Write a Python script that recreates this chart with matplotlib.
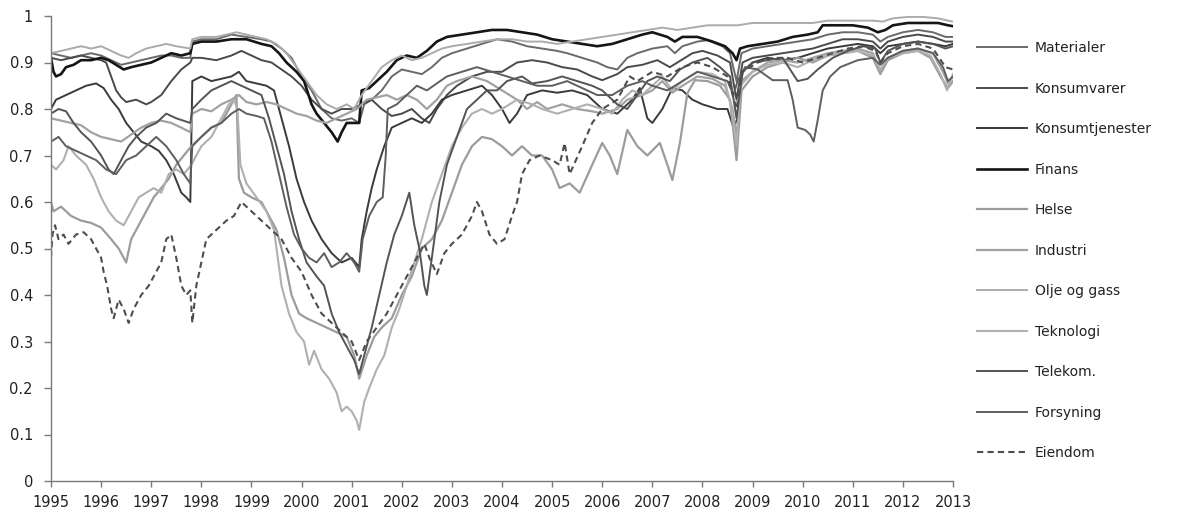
import matplotlib
matplotlib.use("Agg")
import matplotlib.pyplot as plt

plt.rcParams['font.family'] = ['DejaVu Sans']

# ---------------- data ----------------
materialer_t = [1995.0,1995.2,1995.4,1995.6,1995.8,1996.0,1996.2,1996.4,1996.6,1996.8,1997.0,1997.2,1997.4,1997.6,1997.78,1997.82,1998.0,1998.3,1998.6,1998.9,1999.2,1999.4,1999.6,1999.8,2000.0,2000.2,2000.4,2000.6,2000.8,2001.0,2001.15,2001.25,2001.4,2001.6,2001.8,2002.0,2002.2,2002.4,2002.6,2002.8,2003.0,2003.3,2003.6,2003.9,2004.2,2004.5,2004.8,2005.1,2005.3,2005.6,2005.9,2006.1,2006.3,2006.5,2006.7,2007.0,2007.3,2007.45,2007.6,2007.9,2008.1,2008.4,2008.55,2008.68,2008.78,2009.0,2009.3,2009.6,2009.9,2010.2,2010.5,2010.8,2011.1,2011.4,2011.55,2011.7,2012.0,2012.3,2012.6,2012.85,2013.0]
materialer_v = [0.92,0.915,0.91,0.915,0.92,0.915,0.905,0.895,0.9,0.905,0.91,0.915,0.915,0.91,0.91,0.945,0.95,0.95,0.96,0.955,0.95,0.945,0.93,0.91,0.87,0.84,0.80,0.78,0.775,0.78,0.77,0.81,0.82,0.84,0.87,0.885,0.88,0.875,0.89,0.91,0.92,0.93,0.94,0.95,0.945,0.935,0.93,0.925,0.92,0.91,0.90,0.89,0.885,0.91,0.92,0.93,0.935,0.92,0.935,0.945,0.948,0.935,0.92,0.86,0.92,0.93,0.935,0.94,0.945,0.95,0.96,0.965,0.965,0.96,0.945,0.955,0.965,0.97,0.965,0.955,0.955]

konsumvarer_t = [1995.0,1995.2,1995.4,1995.6,1995.8,1996.0,1996.1,1996.2,1996.3,1996.4,1996.5,1996.7,1996.9,1997.0,1997.2,1997.4,1997.6,1997.78,1997.82,1998.0,1998.3,1998.6,1998.8,1999.0,1999.2,1999.4,1999.6,1999.8,2000.0,2000.2,2000.4,2000.6,2000.8,2001.0,2001.2,2001.4,2001.6,2001.8,2002.0,2002.2,2002.4,2002.55,2002.7,2002.9,2003.1,2003.4,2003.7,2004.0,2004.3,2004.6,2004.9,2005.2,2005.5,2005.8,2006.0,2006.3,2006.5,2006.8,2007.1,2007.35,2007.5,2007.8,2008.0,2008.3,2008.55,2008.68,2008.8,2009.0,2009.3,2009.6,2009.9,2010.2,2010.5,2010.8,2011.1,2011.4,2011.55,2011.7,2012.0,2012.3,2012.6,2012.85,2013.0]
konsumvarer_v = [0.91,0.905,0.91,0.915,0.91,0.905,0.9,0.87,0.84,0.825,0.815,0.82,0.81,0.815,0.83,0.86,0.885,0.9,0.91,0.91,0.905,0.915,0.925,0.915,0.905,0.90,0.885,0.87,0.85,0.82,0.80,0.79,0.80,0.80,0.81,0.82,0.80,0.785,0.79,0.80,0.78,0.77,0.80,0.83,0.85,0.87,0.88,0.88,0.90,0.905,0.90,0.89,0.885,0.87,0.862,0.875,0.89,0.895,0.905,0.89,0.90,0.92,0.925,0.915,0.90,0.82,0.90,0.91,0.915,0.92,0.925,0.93,0.94,0.95,0.95,0.945,0.93,0.945,0.955,0.96,0.955,0.945,0.945]

konsumtj_t = [1995.0,1995.1,1995.3,1995.5,1995.7,1995.9,1996.05,1996.2,1996.35,1996.5,1996.65,1996.8,1997.0,1997.15,1997.3,1997.45,1997.6,1997.7,1997.78,1997.82,1998.0,1998.2,1998.4,1998.6,1998.75,1998.9,1999.1,1999.3,1999.45,1999.6,1999.75,1999.9,2000.05,2000.2,2000.4,2000.6,2000.8,2001.0,2001.15,2001.2,2001.3,2001.4,2001.5,2001.65,2001.8,2002.0,2002.2,2002.4,2002.6,2002.8,2003.0,2003.3,2003.6,2003.8,2004.0,2004.15,2004.3,2004.5,2004.8,2005.1,2005.4,2005.7,2006.0,2006.3,2006.6,2006.75,2006.9,2007.0,2007.2,2007.4,2007.6,2007.8,2008.0,2008.3,2008.5,2008.62,2008.7,2008.8,2009.0,2009.3,2009.6,2009.9,2010.2,2010.5,2010.8,2011.1,2011.4,2011.55,2011.7,2012.0,2012.3,2012.6,2012.85,2013.0]
konsumtj_v = [0.80,0.82,0.83,0.84,0.85,0.855,0.845,0.82,0.80,0.77,0.75,0.73,0.72,0.71,0.69,0.66,0.62,0.61,0.60,0.86,0.87,0.86,0.865,0.87,0.88,0.86,0.855,0.85,0.84,0.78,0.72,0.65,0.60,0.56,0.52,0.49,0.47,0.48,0.46,0.52,0.58,0.63,0.67,0.72,0.76,0.77,0.78,0.77,0.79,0.82,0.83,0.84,0.85,0.83,0.80,0.77,0.79,0.83,0.84,0.835,0.84,0.83,0.80,0.79,0.82,0.845,0.78,0.77,0.80,0.845,0.84,0.82,0.81,0.80,0.80,0.76,0.78,0.88,0.90,0.91,0.905,0.91,0.92,0.93,0.935,0.94,0.935,0.92,0.935,0.94,0.945,0.94,0.935,0.94]

finans_t = [1995.0,1995.05,1995.1,1995.2,1995.3,1995.45,1995.6,1995.8,1996.0,1996.15,1996.3,1996.45,1996.6,1996.8,1997.0,1997.2,1997.4,1997.6,1997.78,1997.82,1998.0,1998.3,1998.6,1998.9,1999.2,1999.4,1999.55,1999.7,1999.9,2000.05,2000.2,2000.3,2000.45,2000.6,2000.72,2000.8,2000.9,2001.0,2001.15,2001.2,2001.35,2001.5,2001.7,2001.9,2002.1,2002.3,2002.5,2002.7,2002.9,2003.2,2003.5,2003.8,2004.1,2004.4,2004.7,2005.0,2005.3,2005.6,2005.9,2006.2,2006.5,2006.8,2007.0,2007.3,2007.45,2007.6,2007.9,2008.2,2008.45,2008.6,2008.68,2008.75,2008.9,2009.2,2009.5,2009.8,2010.1,2010.3,2010.4,2010.7,2011.0,2011.3,2011.5,2011.65,2011.8,2012.1,2012.4,2012.7,2012.9,2013.0]
finans_v = [0.91,0.88,0.87,0.875,0.89,0.895,0.905,0.905,0.91,0.905,0.895,0.885,0.89,0.895,0.90,0.91,0.92,0.915,0.92,0.94,0.945,0.945,0.95,0.95,0.94,0.935,0.92,0.90,0.88,0.86,0.81,0.79,0.77,0.75,0.73,0.75,0.77,0.77,0.77,0.84,0.845,0.86,0.88,0.905,0.915,0.91,0.925,0.945,0.955,0.96,0.965,0.97,0.97,0.965,0.96,0.95,0.945,0.94,0.935,0.94,0.95,0.96,0.965,0.955,0.945,0.955,0.955,0.945,0.935,0.92,0.905,0.93,0.935,0.94,0.945,0.955,0.96,0.965,0.98,0.98,0.98,0.975,0.965,0.97,0.98,0.985,0.985,0.985,0.98,0.978]

helse_t = [1995.0,1995.05,1995.2,1995.4,1995.6,1995.8,1996.0,1996.2,1996.35,1996.5,1996.6,1996.75,1996.9,1997.05,1997.2,1997.35,1997.5,1997.65,1997.8,1998.0,1998.2,1998.4,1998.55,1998.7,1998.75,1998.85,1999.0,1999.2,1999.35,1999.5,1999.65,1999.8,1999.95,2000.1,2000.3,2000.5,2000.7,2000.9,2001.05,2001.15,2001.3,2001.45,2001.6,2001.8,2002.0,2002.2,2002.4,2002.6,2002.8,2003.0,2003.2,2003.4,2003.6,2003.8,2004.0,2004.2,2004.4,2004.6,2004.8,2005.0,2005.15,2005.35,2005.55,2005.8,2006.0,2006.15,2006.3,2006.5,2006.7,2006.9,2007.15,2007.3,2007.4,2007.55,2007.7,2007.85,2008.1,2008.35,2008.55,2008.68,2008.78,2009.0,2009.3,2009.6,2009.9,2010.2,2010.5,2010.8,2011.1,2011.4,2011.55,2011.7,2012.0,2012.3,2012.55,2012.75,2012.9,2013.0]
helse_v = [0.60,0.58,0.59,0.57,0.56,0.555,0.545,0.52,0.50,0.47,0.52,0.55,0.58,0.61,0.63,0.65,0.68,0.70,0.72,0.74,0.76,0.77,0.80,0.83,0.65,0.62,0.61,0.60,0.57,0.54,0.48,0.40,0.36,0.35,0.34,0.33,0.32,0.31,0.27,0.22,0.27,0.31,0.33,0.35,0.40,0.44,0.50,0.52,0.56,0.62,0.68,0.72,0.74,0.735,0.72,0.70,0.72,0.70,0.70,0.67,0.63,0.64,0.62,0.68,0.727,0.70,0.66,0.755,0.72,0.70,0.727,0.68,0.647,0.727,0.834,0.862,0.86,0.85,0.82,0.69,0.84,0.87,0.89,0.90,0.91,0.90,0.915,0.92,0.925,0.91,0.875,0.905,0.92,0.925,0.91,0.87,0.845,0.86]

industri_t = [1995.0,1995.2,1995.4,1995.6,1995.8,1996.0,1996.2,1996.4,1996.6,1996.8,1997.0,1997.2,1997.4,1997.6,1997.78,1997.82,1998.0,1998.2,1998.4,1998.6,1998.75,1998.9,1999.1,1999.3,1999.5,1999.7,1999.9,2000.1,2000.3,2000.5,2000.7,2000.9,2001.1,2001.3,2001.5,2001.7,2001.9,2002.1,2002.3,2002.5,2002.7,2002.9,2003.1,2003.4,2003.7,2004.0,2004.3,2004.5,2004.7,2004.9,2005.2,2005.5,2005.8,2006.0,2006.3,2006.5,2006.8,2007.0,2007.2,2007.4,2007.6,2007.9,2008.2,2008.45,2008.6,2008.68,2008.78,2009.0,2009.3,2009.6,2009.9,2010.2,2010.5,2010.8,2011.1,2011.4,2011.55,2011.7,2012.0,2012.3,2012.6,2012.8,2012.9,2013.0]
industri_v = [0.78,0.775,0.77,0.765,0.75,0.74,0.735,0.73,0.745,0.76,0.77,0.775,0.77,0.76,0.75,0.79,0.80,0.795,0.81,0.82,0.83,0.815,0.81,0.815,0.81,0.80,0.79,0.785,0.775,0.77,0.78,0.79,0.80,0.82,0.825,0.83,0.82,0.83,0.82,0.80,0.82,0.85,0.86,0.87,0.86,0.84,0.82,0.80,0.815,0.80,0.81,0.80,0.795,0.79,0.80,0.82,0.83,0.84,0.86,0.835,0.85,0.87,0.865,0.85,0.80,0.74,0.86,0.88,0.90,0.905,0.90,0.91,0.92,0.925,0.93,0.92,0.88,0.91,0.925,0.93,0.92,0.88,0.855,0.87]

olje_t = [1995.0,1995.2,1995.4,1995.6,1995.8,1996.0,1996.2,1996.4,1996.55,1996.7,1996.9,1997.1,1997.3,1997.5,1997.78,1997.82,1998.0,1998.3,1998.5,1998.7,1998.9,1999.1,1999.3,1999.5,1999.7,1999.9,2000.1,2000.3,2000.5,2000.7,2000.9,2001.05,2001.2,2001.4,2001.6,2001.8,2002.0,2002.2,2002.4,2002.6,2002.8,2003.0,2003.3,2003.6,2003.9,2004.2,2004.5,2004.8,2005.1,2005.4,2005.7,2006.0,2006.3,2006.6,2006.9,2007.2,2007.5,2007.8,2008.1,2008.4,2008.7,2009.0,2009.3,2009.6,2009.9,2010.2,2010.5,2010.8,2011.1,2011.4,2011.6,2011.8,2012.1,2012.4,2012.7,2012.9,2013.0]
olje_v = [0.92,0.925,0.93,0.935,0.93,0.935,0.925,0.915,0.91,0.92,0.93,0.935,0.94,0.935,0.93,0.95,0.955,0.955,0.96,0.965,0.96,0.955,0.95,0.94,0.92,0.89,0.86,0.83,0.81,0.80,0.81,0.80,0.83,0.86,0.89,0.905,0.915,0.905,0.91,0.92,0.93,0.935,0.94,0.945,0.95,0.95,0.945,0.945,0.94,0.945,0.95,0.955,0.96,0.965,0.97,0.975,0.97,0.975,0.98,0.98,0.98,0.985,0.985,0.985,0.985,0.985,0.99,0.99,0.99,0.99,0.988,0.995,0.998,0.998,0.995,0.99,0.988]

teknologi_t = [1995.0,1995.1,1995.25,1995.35,1995.5,1995.7,1995.85,1996.0,1996.15,1996.3,1996.45,1996.6,1996.75,1996.9,1997.05,1997.2,1997.35,1997.5,1997.65,1997.8,1998.0,1998.2,1998.4,1998.55,1998.65,1998.72,1998.78,1998.9,1999.1,1999.3,1999.45,1999.6,1999.75,1999.9,2000.05,2000.15,2000.25,2000.4,2000.55,2000.7,2000.8,2000.9,2001.0,2001.1,2001.15,2001.25,2001.35,2001.5,2001.65,2001.8,2001.95,2002.1,2002.25,2002.4,2002.6,2002.8,2003.0,2003.2,2003.4,2003.6,2003.8,2004.0,2004.3,2004.6,2004.8,2005.1,2005.4,2005.7,2006.0,2006.2,2006.4,2006.6,2006.8,2007.0,2007.2,2007.4,2007.6,2007.9,2008.2,2008.45,2008.58,2008.68,2008.76,2009.0,2009.3,2009.6,2009.9,2010.2,2010.5,2010.8,2011.1,2011.4,2011.55,2011.7,2012.0,2012.3,2012.55,2012.75,2012.88,2013.0]
teknologi_v = [0.68,0.67,0.69,0.72,0.70,0.68,0.65,0.61,0.58,0.56,0.55,0.58,0.61,0.62,0.63,0.62,0.66,0.67,0.66,0.68,0.72,0.74,0.78,0.81,0.82,0.80,0.68,0.64,0.61,0.58,0.54,0.42,0.36,0.32,0.30,0.25,0.28,0.24,0.22,0.19,0.15,0.16,0.15,0.13,0.11,0.17,0.20,0.24,0.27,0.33,0.37,0.42,0.47,0.52,0.60,0.66,0.72,0.76,0.79,0.80,0.79,0.80,0.82,0.81,0.80,0.79,0.80,0.81,0.80,0.79,0.82,0.84,0.83,0.85,0.87,0.84,0.86,0.88,0.875,0.86,0.80,0.72,0.85,0.88,0.895,0.90,0.89,0.905,0.915,0.92,0.925,0.915,0.885,0.91,0.92,0.925,0.915,0.875,0.84,0.875]

telekom_t = [1995.0,1995.15,1995.3,1995.45,1995.6,1995.8,1996.0,1996.15,1996.25,1996.4,1996.55,1996.7,1996.9,1997.1,1997.3,1997.5,1997.78,1997.82,1998.0,1998.2,1998.4,1998.6,1998.8,1999.0,1999.2,1999.35,1999.5,1999.65,1999.8,1999.95,2000.1,2000.3,2000.45,2000.6,2000.75,2000.9,2001.05,2001.15,2001.25,2001.4,2001.55,2001.7,2001.85,2002.0,2002.15,2002.25,2002.35,2002.45,2002.5,2002.6,2002.75,2002.9,2003.1,2003.3,2003.5,2003.7,2003.9,2004.1,2004.4,2004.6,2004.9,2005.2,2005.5,2005.8,2006.0,2006.3,2006.5,2006.7,2006.9,2007.1,2007.35,2007.55,2007.8,2008.1,2008.35,2008.55,2008.68,2008.8,2009.0,2009.3,2009.6,2009.9,2010.1,2010.3,2010.6,2010.9,2011.2,2011.45,2011.55,2011.7,2012.0,2012.3,2012.6,2012.85,2013.0]
telekom_v = [0.79,0.80,0.795,0.77,0.75,0.73,0.70,0.67,0.66,0.69,0.72,0.74,0.76,0.77,0.79,0.78,0.77,0.80,0.82,0.84,0.85,0.86,0.85,0.84,0.83,0.78,0.72,0.66,0.58,0.52,0.47,0.44,0.42,0.36,0.32,0.29,0.26,0.23,0.27,0.33,0.40,0.47,0.53,0.57,0.62,0.55,0.50,0.42,0.40,0.48,0.60,0.68,0.74,0.80,0.82,0.84,0.84,0.86,0.87,0.855,0.86,0.87,0.86,0.85,0.84,0.81,0.80,0.83,0.86,0.87,0.86,0.885,0.90,0.91,0.89,0.87,0.78,0.88,0.90,0.905,0.91,0.86,0.865,0.885,0.91,0.925,0.935,0.93,0.90,0.925,0.94,0.945,0.94,0.93,0.935]

forsyning_t = [1995.0,1995.15,1995.3,1995.5,1995.7,1995.9,1996.1,1996.3,1996.5,1996.7,1996.9,1997.1,1997.3,1997.5,1997.65,1997.78,1997.82,1998.0,1998.2,1998.4,1998.6,1998.75,1998.9,1999.1,1999.25,1999.4,1999.55,1999.7,1999.85,2000.0,2000.15,2000.3,2000.45,2000.6,2000.75,2000.9,2001.05,2001.15,2001.22,2001.35,2001.5,2001.62,2001.68,2001.72,2001.9,2002.1,2002.3,2002.5,2002.7,2002.9,2003.2,2003.5,2003.8,2004.1,2004.4,2004.7,2005.0,2005.3,2005.6,2005.9,2006.2,2006.5,2006.8,2007.0,2007.3,2007.6,2007.9,2008.2,2008.5,2008.62,2008.7,2008.85,2009.1,2009.4,2009.7,2009.8,2009.9,2010.05,2010.15,2010.22,2010.3,2010.4,2010.55,2010.75,2011.1,2011.4,2011.55,2011.7,2012.0,2012.3,2012.6,2012.8,2012.9,2013.0]
forsyning_v = [0.73,0.74,0.72,0.71,0.70,0.69,0.67,0.66,0.69,0.70,0.72,0.74,0.72,0.69,0.66,0.64,0.72,0.74,0.76,0.77,0.79,0.80,0.79,0.785,0.78,0.73,0.66,0.59,0.53,0.50,0.48,0.47,0.49,0.46,0.47,0.49,0.47,0.45,0.52,0.57,0.60,0.61,0.70,0.80,0.81,0.83,0.85,0.84,0.855,0.87,0.88,0.89,0.88,0.87,0.86,0.85,0.85,0.86,0.845,0.83,0.83,0.85,0.86,0.85,0.84,0.86,0.88,0.87,0.86,0.83,0.86,0.89,0.885,0.862,0.862,0.82,0.76,0.755,0.745,0.73,0.776,0.84,0.87,0.89,0.905,0.91,0.895,0.91,0.925,0.93,0.92,0.89,0.86,0.87]

eiendom_t = [1995.0,1995.03,1995.08,1995.15,1995.25,1995.35,1995.5,1995.65,1995.8,1995.9,1996.0,1996.05,1996.12,1996.2,1996.25,1996.35,1996.45,1996.55,1996.65,1996.8,1996.95,1997.1,1997.2,1997.3,1997.4,1997.5,1997.6,1997.7,1997.78,1997.82,1997.9,1998.0,1998.1,1998.3,1998.5,1998.65,1998.8,1999.0,1999.2,1999.4,1999.6,1999.8,2000.0,2000.2,2000.4,2000.6,2000.8,2001.0,2001.15,2001.3,2001.5,2001.7,2001.9,2002.1,2002.3,2002.45,2002.55,2002.7,2002.85,2003.0,2003.2,2003.4,2003.5,2003.6,2003.75,2003.9,2004.05,2004.2,2004.3,2004.4,2004.55,2004.75,2005.0,2005.15,2005.25,2005.35,2005.6,2005.8,2006.0,2006.3,2006.55,2006.7,2007.0,2007.3,2007.6,2007.9,2008.2,2008.5,2008.68,2008.8,2009.1,2009.4,2009.7,2010.0,2010.3,2010.6,2010.9,2011.2,2011.45,2011.55,2011.7,2012.0,2012.3,2012.6,2012.85,2013.0]
eiendom_v = [0.48,0.53,0.55,0.52,0.53,0.51,0.53,0.535,0.52,0.50,0.48,0.45,0.42,0.37,0.35,0.39,0.37,0.34,0.37,0.40,0.42,0.45,0.47,0.52,0.53,0.48,0.42,0.40,0.41,0.34,0.42,0.47,0.52,0.54,0.56,0.57,0.60,0.58,0.56,0.54,0.52,0.48,0.45,0.40,0.36,0.34,0.32,0.30,0.26,0.30,0.33,0.36,0.40,0.44,0.48,0.51,0.48,0.445,0.49,0.51,0.53,0.57,0.60,0.58,0.53,0.51,0.52,0.57,0.60,0.66,0.69,0.70,0.69,0.68,0.727,0.66,0.72,0.77,0.80,0.82,0.87,0.86,0.88,0.87,0.89,0.90,0.89,0.87,0.80,0.88,0.90,0.91,0.91,0.90,0.91,0.92,0.93,0.935,0.925,0.90,0.92,0.935,0.94,0.93,0.89,0.885]

labels = ["Materialer", "Konsumvarer", "Konsumtjenester", "Finans", "Helse",
          "Industri", "Olje og gass", "Teknologi", "Telekom.", "Forsyning", "Eiendom"]
year_ticks = list(range(1995, 2014))
y_ticks = [0, 0.1, 0.2, 0.3, 0.4, 0.5, 0.6, 0.7, 0.8, 0.9, 1]
y_tick_labels = ["0", "0.1", "0.2", "0.3", "0.4", "0.5", "0.6", "0.7", "0.8", "0.9", "1"]

series = [
    (materialer_t, materialer_v, dict(color="#6a6a6a", lw=1.4, ls="-")),
    (konsumvarer_t, konsumvarer_v, dict(color="#4a4a4a", lw=1.4, ls="-")),
    (konsumtj_t, konsumtj_v, dict(color="#3a3a3a", lw=1.4, ls="-")),
    (finans_t, finans_v, dict(color="#151515", lw=1.9, ls="-")),
    (helse_t, helse_v, dict(color="#9c9c9c", lw=1.6, ls="-")),
    (industri_t, industri_v, dict(color="#a2a2a2", lw=1.6, ls="-")),
    (olje_t, olje_v, dict(color="#ababab", lw=1.4, ls="-")),
    (teknologi_t, teknologi_v, dict(color="#b0b0b0", lw=1.5, ls="-")),
    (telekom_t, telekom_v, dict(color="#545454", lw=1.4, ls="-")),
    (forsyning_t, forsyning_v, dict(color="#5e5e5e", lw=1.4, ls="-")),
    (eiendom_t, eiendom_v, dict(color="#4e4e4e", lw=1.5, ls=(0, (3, 2)))),
]

# ---------------- figure ----------------
fig = plt.figure(figsize=(11.78, 5.08), dpi=100)
ax = fig.add_axes([51/1178, 1-481/508, (953-51)/1178, (481-16)/508])

handles = []
for (t, v, st), lab in zip(series, labels):
    h, = ax.plot(t, v, color=st["color"], lw=st["lw"], ls=st["ls"], label=lab,
                 solid_joinstyle="round")
    handles.append(h)

ax.set_xlim(1995, 2013)
ax.set_ylim(0, 1)
ax.set_xticks(year_ticks)
ax.set_xticklabels([str(y) for y in year_ticks])
ax.set_yticks(y_ticks)
ax.set_yticklabels(y_tick_labels)

for s in ["top", "right"]:
    ax.spines[s].set_visible(False)
for s in ["left", "bottom"]:
    ax.spines[s].set_color("#7a7a7a")
    ax.spines[s].set_linewidth(1.0)
ax.tick_params(axis="both", direction="out", width=1.0, color="#7a7a7a",
               labelsize=10.5, labelcolor="#222222")
ax.tick_params(axis="x", length=4, pad=6)
ax.tick_params(axis="y", length=5, pad=8)

leg = fig.legend(handles=handles, labels=labels, loc="upper left",
                 bbox_to_anchor=(977/1178, 1-41/508), frameon=False,
                 fontsize=10, handlelength=3.6, handletextpad=0.55,
                 labelspacing=1.91, borderpad=0, borderaxespad=0)
for txt in leg.get_texts():
    txt.set_color("#222222")

fig.savefig("out.png", dpi=100)
